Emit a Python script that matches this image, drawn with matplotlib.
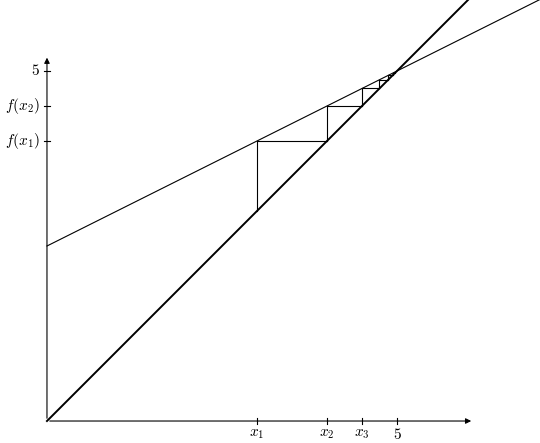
import matplotlib
matplotlib.use("Agg")
import matplotlib.pyplot as plt
import numpy as np

plt.rcParams["mathtext.fontset"] = "cm"
plt.rcParams["font.family"] = "serif"
plt.rcParams["font.serif"] = ["DejaVu Serif"]

# f(x) = a + b x, fixed point at 5
intercept = 2.5
slope = 0.5
x_start = 3.0
n_steps = 6
x_tick_pos = [3.0, 4.0, 4.5, 5.0]
x_tick_labels = [r"$x_1$", r"$x_2$", r"$x_3$", r"$5$"]
y_tick_pos = [5.0, 4.5, 4.0]
y_tick_labels = [r"$5$", r"$f(x_2)$", r"$f(x_1)$"]


def f(x):
    return intercept + slope * x


fig = plt.figure(figsize=(5.40, 4.43), dpi=100)
ax = fig.add_axes([0, 0, 1, 1])
ax.set_xlim(-0.671, 7.043)
ax.set_ylim(-0.314, 6.014)
ax.axis("off")

# axes with arrows
ax.annotate("", xy=(6.1, 0), xytext=(0, 0),
            arrowprops=dict(arrowstyle="-|>", color="black", lw=0.8, mutation_scale=8))
ax.annotate("", xy=(0, 5.23), xytext=(0, 0),
            arrowprops=dict(arrowstyle="-|>", color="black", lw=0.8, mutation_scale=8))

# lines
xs = np.array([0, 7.1])
ax.plot(xs, f(xs), color="black", lw=0.8)
xd = np.array([0, 6.1])
ax.plot(xd, xd, color="black", lw=1.4)

# cobweb
x = x_start
for _ in range(n_steps):
    y = f(x)
    ax.plot([x, x], [x, y], color="black", lw=0.8)
    ax.plot([x, y], [y, y], color="black", lw=0.8)
    x = y

# ticks
for p, lab in zip(x_tick_pos, x_tick_labels):
    ax.plot([p, p], [-0.04, 0.04], color="black", lw=0.8)
    ax.text(p, -0.09, lab, ha="center", va="top", fontsize=11)
for p, lab in zip(y_tick_pos, y_tick_labels):
    ax.plot([-0.04, 0.04], [p, p], color="black", lw=0.8)
    ax.text(-0.1, p, lab, ha="right", va="center", fontsize=11)

fig.savefig("out.png", dpi=100)
